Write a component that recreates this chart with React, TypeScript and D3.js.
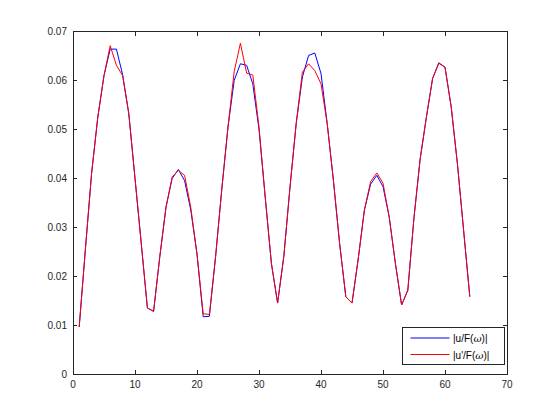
import React from 'react';
import * as d3 from 'd3';

const width = 560;
const height = 420;
const margin = { top: 31.5, right: 53, bottom: 46, left: 73 };

// sample index 1..64
const xs = d3.range(1, 65);

const uF = [
    0.0096, 0.0255, 0.0410, 0.0525, 0.0610, 0.0664, 0.0664, 0.0612, 0.0532, 0.0400,
    0.0268, 0.0135, 0.0128, 0.0240, 0.0341, 0.0400, 0.0418, 0.0395, 0.0335, 0.0245,
    0.0117, 0.0118, 0.0240, 0.0378, 0.0505, 0.0600, 0.0634, 0.0631, 0.0593, 0.0500,
    0.0362, 0.0226, 0.0145, 0.0240, 0.0382, 0.0512, 0.0607, 0.0651, 0.0656, 0.0614,
    0.0512, 0.0396, 0.0267, 0.0158, 0.0145, 0.0235, 0.0335, 0.0388, 0.0406, 0.0383,
    0.0321, 0.0226, 0.0141, 0.0171, 0.0320, 0.0440, 0.0525, 0.0604, 0.0636, 0.0627,
    0.0546, 0.0430, 0.0294, 0.0158,
];

const upF = [
    0.0096, 0.0255, 0.0410, 0.0525, 0.0610, 0.0671, 0.0631, 0.0610, 0.0532, 0.0400,
    0.0268, 0.0135, 0.0128, 0.0240, 0.0341, 0.0403, 0.0416, 0.0406, 0.0340, 0.0245,
    0.0123, 0.0122, 0.0240, 0.0378, 0.0505, 0.0618, 0.0676, 0.0615, 0.0611, 0.0505,
    0.0362, 0.0226, 0.0145, 0.0240, 0.0382, 0.0512, 0.0617, 0.0634, 0.0620, 0.0593,
    0.0512, 0.0396, 0.0267, 0.0158, 0.0145, 0.0235, 0.0335, 0.0393, 0.0411, 0.0390,
    0.0321, 0.0226, 0.0141, 0.0171, 0.0320, 0.0440, 0.0525, 0.0604, 0.0635, 0.0627,
    0.0546, 0.0430, 0.0294, 0.0158,
];

const xTicks = [0, 10, 20, 30, 40, 50, 60, 70];
const yTicks = [0, 0.01, 0.02, 0.03, 0.04, 0.05, 0.06, 0.07];

const axisColor = '#262626';
const font = '"Liberation Sans", Arial, sans-serif';

export default function App() {
    const x = d3.scaleLinear().domain([0, 70]).range([margin.left, width - margin.right]);
    const y = d3.scaleLinear().domain([0, 0.07]).range([height - margin.bottom, margin.top]);

    const line = d3.line<number>()
        .x((d, i) => x(xs[i]))
        .y(d => y(d));

    const x0 = x(0), x1 = x(70), y0 = y(0), y1 = y(0.07);
    const tick = 4.4;

    // legend box in pixels
    const lg = { x: 402.5, y: 327.5, w: 101.5, h: 36.5 };

    return (
        <svg width={width} height={height} style={{ position: 'absolute', left: 0, top: 0, background: '#fff' }}>
            <rect x={0} y={0} width={width} height={height} fill="#fff" />
            <path d={line(uF) || ''} fill="none" stroke="#0000ff" strokeWidth={1} />
            <path d={line(upF) || ''} fill="none" stroke="#ff0000" strokeWidth={1} />

            <g stroke={axisColor} strokeWidth={1} fill="none" shapeRendering="crispEdges">
                <rect x={x0} y={y1} width={x1 - x0} height={y0 - y1} />
                {xTicks.map(t => (
                    <g key={'xt' + t}>
                        <line x1={x(t)} x2={x(t)} y1={y0} y2={y0 - tick} />
                        <line x1={x(t)} x2={x(t)} y1={y1} y2={y1 + tick} />
                    </g>
                ))}
                {yTicks.map(t => (
                    <g key={'yt' + t}>
                        <line x1={x0} x2={x0 + tick} y1={y(t)} y2={y(t)} />
                        <line x1={x1} x2={x1 - tick} y1={y(t)} y2={y(t)} />
                    </g>
                ))}
            </g>

            <g fontFamily={font} fontSize={10} fill={axisColor}>
                {xTicks.map(t => (
                    <text key={'xl' + t} x={x(t)} y={y0 + 14} textAnchor="middle">{t}</text>
                ))}
                {yTicks.map(t => (
                    <text key={'yl' + t} x={x0 - 6} y={y(t) + 3.5} textAnchor="end">
                        {t === 0 ? '0' : t.toFixed(2)}
                    </text>
                ))}
            </g>

            <g>
                <rect x={lg.x} y={lg.y} width={lg.w} height={lg.h} fill="#fff" stroke={axisColor} strokeWidth={1} shapeRendering="crispEdges" />
                <line x1={410.5} x2={449.5} y1={338} y2={338} stroke="#0000ff" strokeWidth={1} />
                <line x1={410.5} x2={449.5} y1={354.5} y2={354.5} stroke="#ff0000" strokeWidth={1} />
                <text x={453} y={342} fontFamily={font} fontSize={10} fill="#000">
                    |u/F(<tspan fontFamily='"DejaVu Serif", serif' fontStyle="italic">ω</tspan>)|
                </text>
                <text x={453} y={358.5} fontFamily={font} fontSize={10} fill="#000">
                    |u'/F(<tspan fontFamily='"DejaVu Serif", serif' fontStyle="italic">ω</tspan>)|
                </text>
            </g>
        </svg>
    );
}
